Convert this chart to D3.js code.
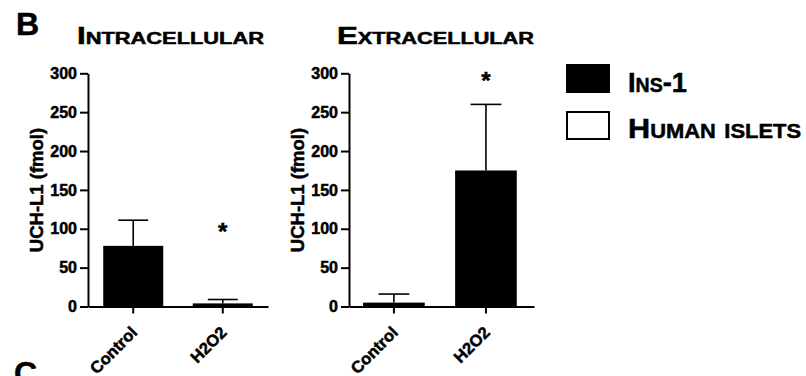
<!doctype html>
<html>
<head>
<meta charset="UTF-8">
<title>UCH-L1</title>
<script src="https://d3js.org/d3.v7.min.js"></script>
<style>
    body { margin: 0; background: #fff; }
    svg text { font-family: "Liberation Sans", Arial, sans-serif; font-weight: bold; fill: #000; stroke: #000; stroke-width: 0.5px; }
</style>
</head>
<body>
<svg width="806" height="376"></svg>
<script>
    // values
    var groups = ["Control", "H2O2"];
    var intraMean = [78, 4];
    var intraSem = [33, 5];
    var extraMean = [5, 175];
    var extraSem = [11, 85];
    var intraStar = [null, 102];
    var extraStar = [null, 296];
    var yTicks = [0, 50, 100, 150, 200, 250, 300];
    var titles = ["Intracellular", "Extracellular"];
    var legendLabels = ["Ins-1", "Human islets"];
    var legendFills = ["#000", "#fff"];

    var svg = d3.select("svg");

    var y = d3.scaleLinear().domain([0, 300]).range([306.5, 73.3]);

    var panels = [
        { title: titles[0], mean: intraMean, sem: intraSem, star: intraStar, x0: 88, x1: 268, align: 0.5, titleX: 77, titleLen: 187 },
        { title: titles[1], mean: extraMean, sem: extraSem, star: extraStar, x0: 349, x1: 534, align: 0.45, titleX: 337, titleLen: 197 }
    ];

    panels.forEach(function (p) {
        var g = svg.append("g");
        var x = d3.scaleBand().domain(groups).range([p.x0, p.x1])
            .paddingInner(0.33).paddingOuter(0.17).align(p.align);

        // title
        g.append("text")
            .attr("x", p.titleX)
            .attr("y", 44.3)
            .attr("font-size", 23)
            .style("font-variant", "small-caps")
            .attr("textLength", p.titleLen)
            .attr("lengthAdjust", "spacingAndGlyphs")
            .text(p.title);

        // bars
        g.selectAll("rect.bar").data(groups).enter().append("rect")
            .attr("class", "bar")
            .attr("x", function (d) { return x(d); })
            .attr("y", function (d, i) { return y(p.mean[i]); })
            .attr("width", x.bandwidth())
            .attr("height", function (d, i) { return y(0) - y(p.mean[i]); })
            .attr("fill", "#000");

        // error bars (upper only)
        var eb = g.selectAll("g.err").data(groups).enter().append("g").attr("class", "err");
        eb.append("line")
            .attr("x1", function (d) { return x(d) + x.bandwidth() / 2; })
            .attr("x2", function (d) { return x(d) + x.bandwidth() / 2; })
            .attr("y1", function (d, i) { return y(p.mean[i]); })
            .attr("y2", function (d, i) { return y(p.mean[i] + p.sem[i]); })
            .attr("stroke", "#000").attr("stroke-width", 1.6);
        eb.append("line")
            .attr("x1", function (d) { return x(d) + x.bandwidth() * 0.25; })
            .attr("x2", function (d) { return x(d) + x.bandwidth() * 0.75; })
            .attr("y1", function (d, i) { return y(p.mean[i] + p.sem[i]); })
            .attr("y2", function (d, i) { return y(p.mean[i] + p.sem[i]); })
            .attr("stroke", "#000").attr("stroke-width", 1.6);

        // significance stars
        g.selectAll("text.star").data(groups).enter().append("text")
            .attr("class", "star")
            .attr("x", function (d) { return x(d) + x.bandwidth() / 2; })
            .attr("y", function (d, i) { return p.star[i] == null ? 0 : y(p.star[i]) + 13; })
            .attr("text-anchor", "middle")
            .attr("font-size", 24)
            .style("display", function (d, i) { return p.star[i] == null ? "none" : null; })
            .text("*");

        // y axis
        var ya = g.append("g")
            .attr("transform", "translate(" + p.x0 + ",0)")
            .call(d3.axisLeft(y).tickValues(yTicks).tickSize(8).tickSizeOuter(0).tickPadding(3));
        ya.attr("font-size", 16).attr("font-family", null);
        ya.select(".domain").attr("stroke-width", 2);
        ya.selectAll(".tick line").attr("stroke-width", 2);

        // x axis
        var xa = g.append("g")
            .attr("transform", "translate(0," + y(0) + ")")
            .call(d3.axisBottom(x).tickSize(7).tickSizeOuter(0));
        xa.attr("font-size", 16.5).attr("font-family", null);
        xa.select(".domain").attr("stroke-width", 2);
        xa.selectAll(".tick text")
            .attr("text-anchor", "end")
            .attr("x", 0).attr("y", 0).attr("dy", 0)
            .attr("transform", "translate(5,27) rotate(-45)");
        xa.selectAll(".tick line").attr("stroke-width", 2);

        // y axis title
        g.append("text")
            .attr("transform", "translate(" + (p.x0 - 45) + "," + 190 + ") rotate(-90)")
            .attr("text-anchor", "middle")
            .attr("font-size", 18.5)
            .text("UCH-L1 (fmol)");
    });

    // legend
    var lg = svg.append("g");
    lg.selectAll("rect").data(legendLabels).enter().append("rect")
        .attr("x", 567)
        .attr("y", function (d, i) { return 65 + 47 * i; })
        .attr("width", 42)
        .attr("height", 27)
        .attr("fill", function (d, i) { return legendFills[i]; })
        .attr("stroke", "#000")
        .attr("stroke-width", 2);
    lg.selectAll("text").data(legendLabels).enter().append("text")
        .attr("x", 628)
        .attr("y", function (d, i) { return 91.7 + 46.6 * i; })
        .attr("font-size", 28)
        .style("font-variant", "small-caps")
        .attr("textLength", function (d, i) { return i === 0 ? 59 : 173; })
        .attr("lengthAdjust", "spacingAndGlyphs")
        .text(function (d) { return d; });

    // panel letters
    svg.append("text").attr("x", 16).attr("y", 35).attr("font-size", 32).text("B");
    svg.append("text").attr("x", 14).attr("y", 384).attr("font-size", 32).text("C");
</script>
</body>
</html>
